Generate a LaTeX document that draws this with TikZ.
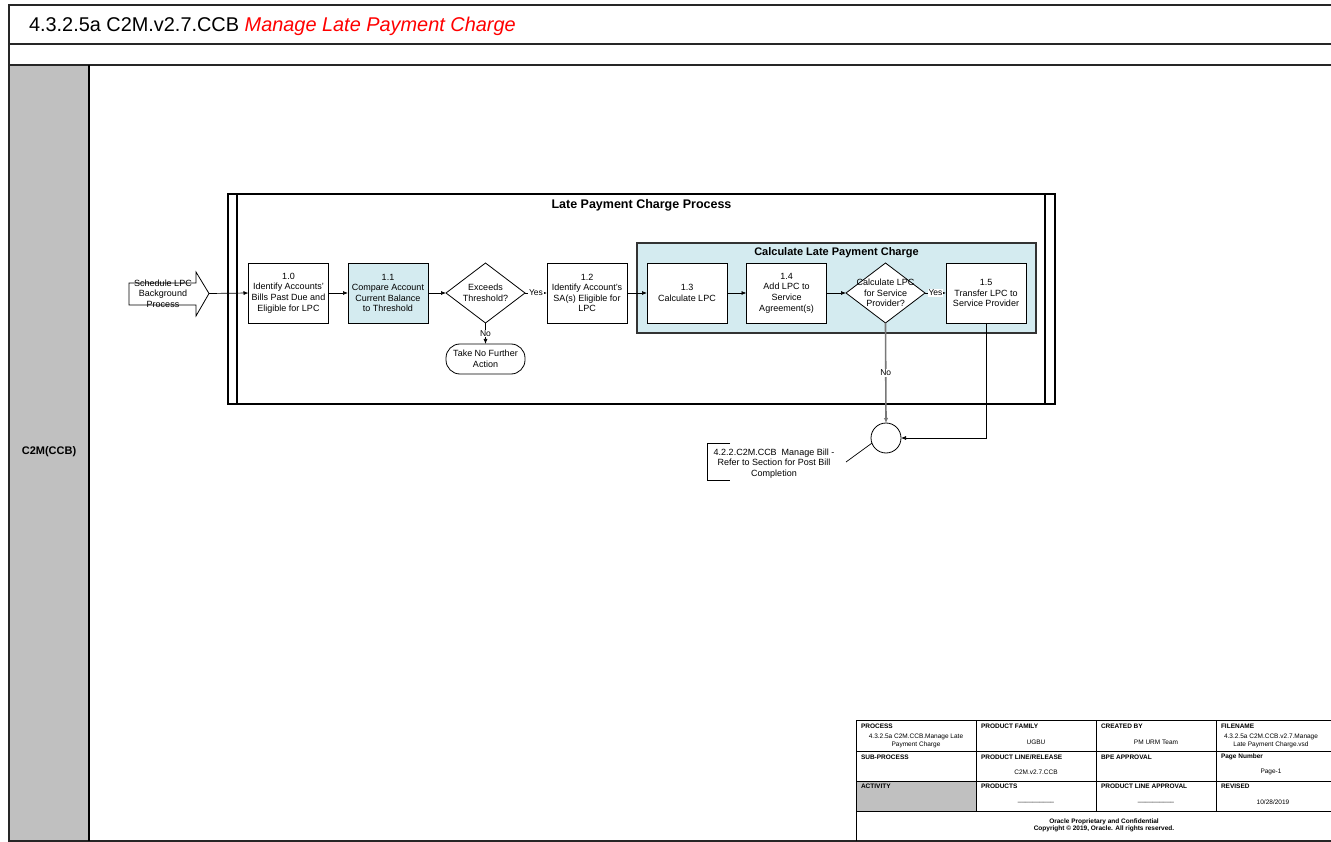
\documentclass[tikz,border=0pt]{standalone}
\usepackage{fontspec}
\setmainfont{Liberation Sans}
\usetikzlibrary{shapes.geometric,arrows.meta}
\definecolor{lblue}{RGB}{212,235,240}
\definecolor{lanegray}{RGB}{192,192,192}
\definecolor{titlered}{RGB}{255,0,0}
\definecolor{noline}{RGB}{120,120,120}
\newcommand\myfs[2]{\fontsize{#1}{#2}\selectfont}
\begin{document}
\begin{tikzpicture}[x=1pt,y=-1pt,
  every node/.style={inner sep=0pt,outer sep=0pt},
  box/.style={draw,line width=0.8pt,fill=white,minimum width=80pt,minimum height=60pt,align=center,font=\myfs{9}{10.6}},
  bluebox/.style={box,fill=lblue},
  dia/.style={draw,diamond,line width=0.8pt,fill=white,minimum width=79pt,minimum height=60pt},
  txt/.style={align=center,font=\myfs{9}{10.6}},
  flow/.style={draw,line width=0.7pt,-{Latex[length=5pt,width=4pt]}},
  lbl/.style={fill=white,font=\myfs{8.5}{10},inner sep=1pt},
  frame/.style={line width=1.3pt,black!85},
  th/.style={anchor=west,font=\bfseries\myfs{6.5}{7.2}},
  td/.style={align=center,font=\myfs{6.5}{7.2}},
  tf/.style={align=center,font=\bfseries\myfs{6.5}{7}}
]
\useasboundingbox (0,0) rectangle (1331,842);
% frame
\node[fill=lanegray,minimum width=80pt,minimum height=776pt] (lane) at (49,453) {};
\draw[frame] (1331,5) -- (9,5) -- (9,841) -- (1331,841);
\draw[frame] (9,44) -- (1331,44);
\draw[frame] (9,65) -- (1331,65);
\draw[line width=1.2pt] (lane.north east) -- (lane.south east);
\node[font=\bfseries\myfs{11}{13}] (lanelbl) at (49,452) {C2M(CCB)};
\node[anchor=base west,font=\myfs{19.9}{22}] (title) at (29,32) {4.3.2.5a C2M.v2.7.CCB \textcolor{titlered}{\itshape Manage Late Payment Charge}};

% containers
\node[draw,line width=1.1pt,minimum width=827pt,minimum height=210pt] (lpc) at (641.5,299) {};
\draw[line width=1.1pt] ([xshift=9pt]lpc.north west) -- ([xshift=9pt]lpc.south west);
\draw[line width=1.1pt] ([xshift=-10pt]lpc.north east) -- ([xshift=-10pt]lpc.south east);
\node[font=\bfseries\myfs{12.5}{14}] (lpct) at (641.5,205) {Late Payment Charge Process};
\node[draw=black!80,line width=1.5pt,fill=lblue,minimum width=399pt,minimum height=90pt] (calc) at (836.5,288) {};
\node[font=\bfseries\myfs{11}{13}] (calct) at (836.5,252.5) {Calculate Late Payment Charge};

% start block arrow
\draw[line width=0.8pt,fill=white] (129,283) -- (196,283) -- (196,272) -- (209,293.5) -- (196,316) -- (196,305) -- (129,305) -- cycle;
\coordinate (start) at (209,293.5);
\node[txt] (sched) at (163,293.5) {Schedule LPC\\Background\\Process};

% steps
\node[box] (b10) at (288.5,293) {1.0\\Identify Accounts'\\Bills Past Due and\\Eligible for LPC};
\node[bluebox] (b11) at (388,293) {1.1\\Compare Account\\Current Balance\\to Threshold};
\node[dia] (d1) at (485.5,293) {};
\node[txt] (d1t) at (d1) {Exceeds\\Threshold?};
\node[box] (b12) at (587,293) {1.2\\Identify Account's\\SA(s) Eligible for\\LPC};
\node[draw,line width=0.8pt,fill=white,rounded corners=14pt,minimum width=79pt,minimum height=30pt,align=center,font=\myfs{9}{10.6}] (term) at (485.5,359) {Take No Further\\Action};
\node[box] (b13) at (687,293) {1.3\\Calculate LPC};
\node[box] (b14) at (786.5,293) {1.4\\Add LPC to\\Service\\Agreement(s)};
\node[dia] (d2) at (885.5,293) {};
\node[txt] (d2t) at (d2) {Calculate LPC\\for Service\\Provider?};
\node[box] (b15) at (986,293) {1.5\\Transfer LPC to\\Service Provider};
\node[draw,circle,line width=0.8pt,fill=white,minimum size=30pt] (circ) at (886,438) {};

% connectors
\draw[flow] (start) -- (b10.west);
\draw[flow] (b10.east) -- (b11.west);
\draw[flow] (b11.east) -- (d1.west);
\draw[flow] (d1.east) -- node[lbl] {Yes} (b12.west);
\draw[flow] (d1.south) -- node[lbl] {No} (term.north);
\draw[flow] (b12.east) -- (b13.west);
\draw[flow] (b13.east) -- (b14.west);
\draw[flow] (b14.east) -- (d2.west);
\draw[flow] (d2.east) -- node[lbl] {Yes} (b15.west);
\draw[flow,draw=noline,line width=1.6pt,-{Latex[length=5pt,width=4.5pt,fill=black]}] (d2.south) -- node[lbl,inner sep=1.5pt] {No} (circ.north);
\draw[flow] (b15.south) |- (circ.east);

% annotation
\node[txt] (ann) at (774,463.5) {4.2.2.C2M.CCB\ \ Manage Bill -\\Refer to Section for Post Bill\\Completion};
\draw[line width=0.8pt] (730,443) -- (707,443) -- (707,480) -- (730,480);
\coordinate (annend) at (846,462);
\draw[line width=0.7pt] (annend) -- (circ.200);

% table
\fill[lanegray] (856,781) rectangle (976,811);
\draw[line width=0.9pt] (1331,720) -- (856,720) -- (856,841);
\foreach \yy in {751,781,811} {\draw[line width=0.9pt] (856,\yy) -- (1331,\yy);}
\foreach \xx in {976,1096,1216} {\draw[line width=0.9pt] (\xx,720) -- (\xx,811);}
\node[th] (h11) at (861,726) {PROCESS};
\node[th] (h12) at (981,726) {PRODUCT FAMILY};
\node[th] (h13) at (1101,726) {CREATED BY};
\node[th] (h14) at (1221,726) {FILENAME};
\node[td] (v11) at (916,741) {4.3.2.5a C2M.CCB.Manage Late\\Payment Charge};
\node[td] (v12) at (1036,742) {UGBU};
\node[td] (v13) at (1156,742) {PM URM Team};
\node[td] (v14) at (1271,741) {4.3.2.5a C2M.CCB.v2.7.Manage\\Late Payment Charge.vsd};
\node[th] (h21) at (861,757) {SUB-PROCESS};
\node[th] (h22) at (981,757) {PRODUCT LINE/RELEASE};
\node[th] (h23) at (1101,757) {BPE APPROVAL};
\node[th] (h24) at (1221,757) {Page Number};
\node[td] (v22) at (1036,772) {C2M.v2.7.CCB};
\node[td] (v24) at (1271,772) {Page-1};
\node[th] (h31) at (861,786) {ACTIVITY};
\node[th] (h32) at (981,786) {PRODUCTS};
\node[th] (h33) at (1101,786) {PRODUCT LINE APPROVAL};
\node[th] (h34) at (1221,786) {REVISED};
\node[td] (v32) at (1036,802) {\_\_\_\_\_\_\_\_\_\_};
\node[td] (v33) at (1156,802) {\_\_\_\_\_\_\_\_\_\_};
\node[td] (v34) at (1273,802) {10/28/2019};
\node[tf] (foot) at (1104,825) {Oracle Proprietary and Confidential\\Copyright © 2019, Oracle. All rights reserved.};
\end{tikzpicture}
\end{document}
